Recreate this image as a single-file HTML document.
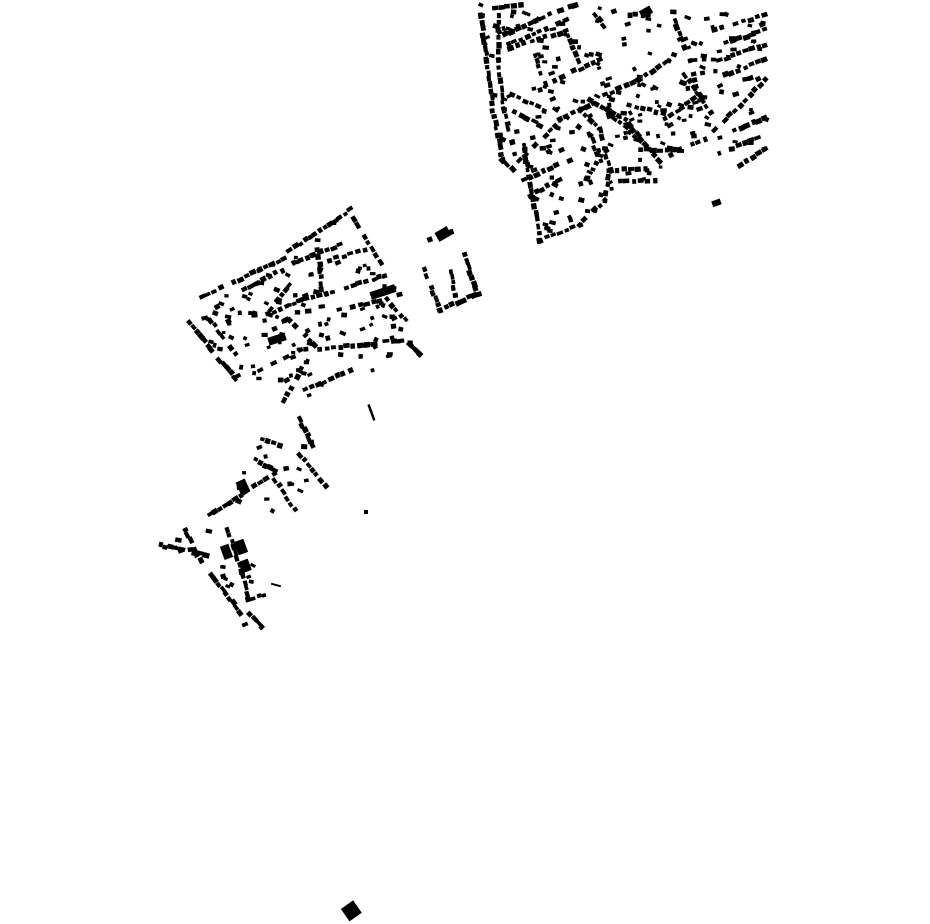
<!DOCTYPE html>
<html><head><meta charset="utf-8"><style>html,body{margin:0;padding:0;background:#fff;width:930px;height:924px;overflow:hidden}svg{display:block}</style></head>
<body>
<svg id="s" width="930" height="924" viewBox="0 0 930 924" xmlns="http://www.w3.org/2000/svg">
<g fill="#000">
<rect x="344" y="903" width="15" height="15" transform="rotate(-35 352 911)"/>
<rect x="436" y="229" width="14" height="10" transform="rotate(-30 443 234)"/>
<rect x="712" y="200" width="9" height="6" transform="rotate(-20 716 203)"/>
<rect x="364" y="510" width="4" height="4"/>
<rect x="370" y="404" width="2.5" height="17" transform="rotate(-20 371 412)"/>
<rect x="271" y="584" width="10" height="2" transform="rotate(15 276 585)"/>
<rect x="370" y="288" width="26" height="8" transform="rotate(-18 383 292)"/>
<rect x="268" y="335" width="18" height="8" transform="rotate(-18 277 339)"/>
<rect x="238" y="480" width="10" height="14" transform="rotate(-25 243 487)"/>
<rect x="236" y="540" width="10" height="14" transform="rotate(-20 241 547)"/>
<rect x="222" y="545" width="9" height="14" transform="rotate(-20 226 552)"/>
<rect x="240" y="560" width="10" height="12" transform="rotate(-20 245 566)"/>
<rect x="640" y="8" width="12" height="8" transform="rotate(-30 646 12)"/>
</g>
<g id="g" fill="#000"></g>
</svg>
<script>
var rows=[
[[480,10,487,60,493,110,503,160,512,170],6],
[[498,15,498,60,504,110,515,155],7],
[[488,8,520,5],7],
[[505,35,555,12],7],[[508,45,565,20],7],[[510,48,560,33],7],
[[535,55,545,85],7],[[565,30,578,60],7],[[555,80,600,60],7],
[[512,95,545,110],7],[[515,112,540,125],7],
[[520,160,560,120,600,100],7],[[525,180,570,160],7],[[530,195,560,180],7],
[[525,150,540,240],7],
[[540,240,580,225,605,200,610,170,600,130,580,110],7],
[[555,110,590,135,600,160],7],
[[605,95,640,80,665,62],7],[[605,110,640,140,660,160],7],
[[590,100,625,120,650,150],7],[[630,105,670,115,700,95],7],
[[610,170,645,168],7],[[620,182,655,180],7],
[[640,150,680,150,705,140],7],
[[675,20,690,60,700,100],7],[[685,75,710,112],7],[[630,15,655,15],6],
[[715,30,765,15],7],[[720,45,765,30],7],[[720,60,765,45],7],[[725,75,765,60],7],
[[715,130,765,80],7],[[740,165,765,150],7],[[735,130,765,118],7],[[738,145,765,135],7],
[[596,15,604,25],6],[[560,10,575,5],6],
[[290,250,350,210],6],[[350,212,380,262],7],
[[185,318,235,378],6],[[195,300,260,270,290,255],7],[[210,320,240,360],7],
[[245,290,300,260],7],[[255,320,300,300],7],[[300,260,340,245],7],
[[318,250,322,290],7],[[300,300,340,290,385,275],7],[[340,310,400,295],7],
[[260,370,300,350,360,345,400,340],7],[[285,400,300,370],7],[[305,390,350,370],7],
[[290,320,315,345],7],[[330,260,365,250],7],[[270,310,290,285],7],
[[405,340,420,355],6],[[388,300,405,320],7],
[[430,240,452,232],6],[[425,270,440,310],6],[[440,310,475,295],6],
[[465,255,478,295],6],[[450,265,455,295],6],
[[300,420,312,445],6],[[262,440,280,445],6],[[210,515,280,470],6],
[[275,480,295,510],7],[[300,455,325,485],7],[[160,545,205,555],6],
[[185,530,200,560],6],[[228,530,250,600],6],[[212,575,240,612],6],
[[248,600,265,595],6],[[250,615,262,628],6],[[255,460,275,470],6]
];
var polys=[
[[[478,5],[580,0],[700,15],[768,12],[768,150],[660,170],[610,200],[545,245],[515,170],[490,120]],230],
[[[185,315],[300,245],[350,208],[390,270],[420,350],[330,390],[285,405],[240,380]],120],
[[[262,430],[310,415],[325,485],[295,510],[212,515]],15],
[[[160,540],[190,525],[245,530],[265,600],[255,630],[215,615]],15]
];
var seed=7;function r(){seed=(seed*16807)%2147483647;return seed/2147483647;}
function inside(p,x,y){var c=false;for(var i=0,j=p.length-1;i<p.length;j=i++){var xi=p[i][0],yi=p[i][1],xj=p[j][0],yj=p[j][1];if(((yi>y)!=(yj>y))&&(x<(xj-xi)*(y-yi)/(yj-yi)+xi))c=!c;}return c;}
var g=document.getElementById('g'),h='';
function rect(x,y,w,hh,a){h+='<rect x="'+(x-w/2).toFixed(1)+'" y="'+(y-hh/2).toFixed(1)+'" width="'+w.toFixed(1)+'" height="'+hh.toFixed(1)+'" transform="rotate('+a.toFixed(0)+' '+x.toFixed(1)+' '+y.toFixed(1)+')"/>';}
rows.forEach(function(o){var p=o[0],sp=o[1];for(var i=0;i<p.length-2;i+=2){var x1=p[i],y1=p[i+1],x2=p[i+2],y2=p[i+3];var L=Math.hypot(x2-x1,y2-y1),n=Math.max(1,Math.round(L/sp)),a=Math.atan2(y2-y1,x2-x1)*180/Math.PI;for(var k=0;k<=n;k++){if(r()<0.1)continue;var t=k/n,x=x1+(x2-x1)*t+(r()-.5)*2,y=y1+(y2-y1)*t+(r()-.5)*2;rect(x,y,4+r()*3,3.5+r()*2,a);}}});
polys.forEach(function(o){var p=o[0],n=o[1],xs=p.map(function(q){return q[0]}),ys=p.map(function(q){return q[1]});var mnx=Math.min.apply(0,xs),mxx=Math.max.apply(0,xs),mny=Math.min.apply(0,ys),mxy=Math.max.apply(0,ys);var c=0,tries=0;while(c<n&&tries<20000){tries++;var x=mnx+r()*(mxx-mnx),y=mny+r()*(mxy-mny);if(!inside(p,x,y))continue;c++;rect(x,y,3.5+r()*3,3+r()*2,-30+r()*60);}});
g.innerHTML=h;
</script>
</body></html>
